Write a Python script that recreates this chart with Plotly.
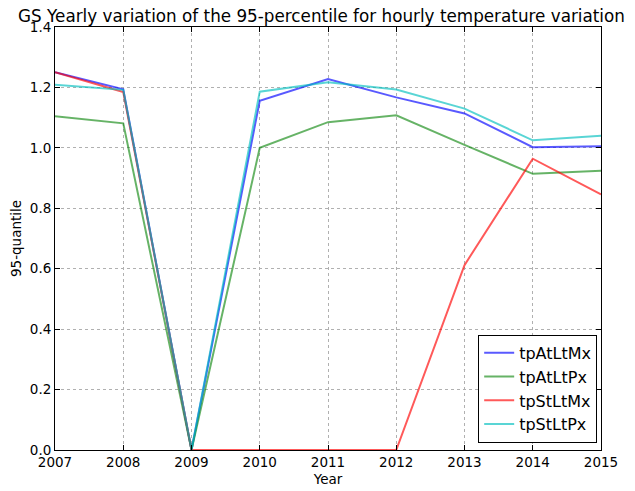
import plotly.graph_objects as go

years = [2007, 2008, 2009, 2010, 2011, 2012, 2013, 2014, 2015]
tpAtLtMx = [1.25, 1.194, 0.0, 1.156, 1.228, 1.167, 1.114, 1.002, 1.005]
tpAtLtPx = [1.105, 1.081, 0.0, 1.0, 1.085, 1.108, 1.01, 0.914, 0.924]
tpStLtMx = [1.25, 1.185, 0.0, 0.0, 0.0, 0.0, 0.612, 0.964, 0.846]
tpStLtPx = [1.209, 1.192, 0.0, 1.186, 1.217, 1.193, 1.13, 1.025, 1.04]

series = [
    ("tpAtLtMx", tpAtLtMx, "rgba(0,0,255,0.65)"),
    ("tpAtLtPx", tpAtLtPx, "rgba(0,128,0,0.6)"),
    ("tpStLtMx", tpStLtMx, "rgba(255,0,0,0.65)"),
    ("tpStLtPx", tpStLtPx, "rgba(0,191,191,0.65)"),
]

fig = go.Figure()
for name, vals, col in series:
    fig.add_trace(go.Scatter(x=years, y=vals, mode="lines", name=name,
                             line=dict(color=col, width=2)))

axis_common = dict(
    showline=True, linecolor="black", linewidth=1, mirror="ticks",
    ticks="inside", ticklen=5, tickcolor="black",
    showgrid=True, gridcolor="#b0b0b0", griddash="dot", gridwidth=1,
    zeroline=False, tickfont=dict(size=13.5, color="black"), automargin=False,
)

fig.update_layout(
    width=627, height=483,
    margin=dict(l=47, r=34, t=19, b=41, autoexpand=False),
    paper_bgcolor="white", plot_bgcolor="white",
    font=dict(family="DejaVu Sans", color="black"),
    title=dict(text="GS Yearly variation of the 95-percentile for hourly temperature variation",
               x=0.5, xanchor="center", y=0.995, yanchor="top",
               font=dict(size=16.8, color="black")),
    xaxis=dict(range=[2007, 2015], tickvals=years, ticktext=[str(y) for y in years],
               title=dict(text="Year", font=dict(size=13.5), standoff=5), **axis_common),
    yaxis=dict(range=[0, 1.4], tickvals=[0, 0.2, 0.4, 0.6, 0.8, 1.0, 1.2, 1.4],
               ticktext=["0.0", "0.2", "0.4", "0.6", "0.8", "1.0", "1.2", "1.4"],
               title=dict(text="95-quantile", font=dict(size=13.5), standoff=6), **axis_common),
    legend=dict(x=0.993, xanchor="right", y=0.017, yanchor="bottom",
                bordercolor="black", borderwidth=1, bgcolor="white",
                font=dict(size=16, color="black"), tracegroupgap=3, itemwidth=30),
    showlegend=True,
)

fig.write_html("out.html")
